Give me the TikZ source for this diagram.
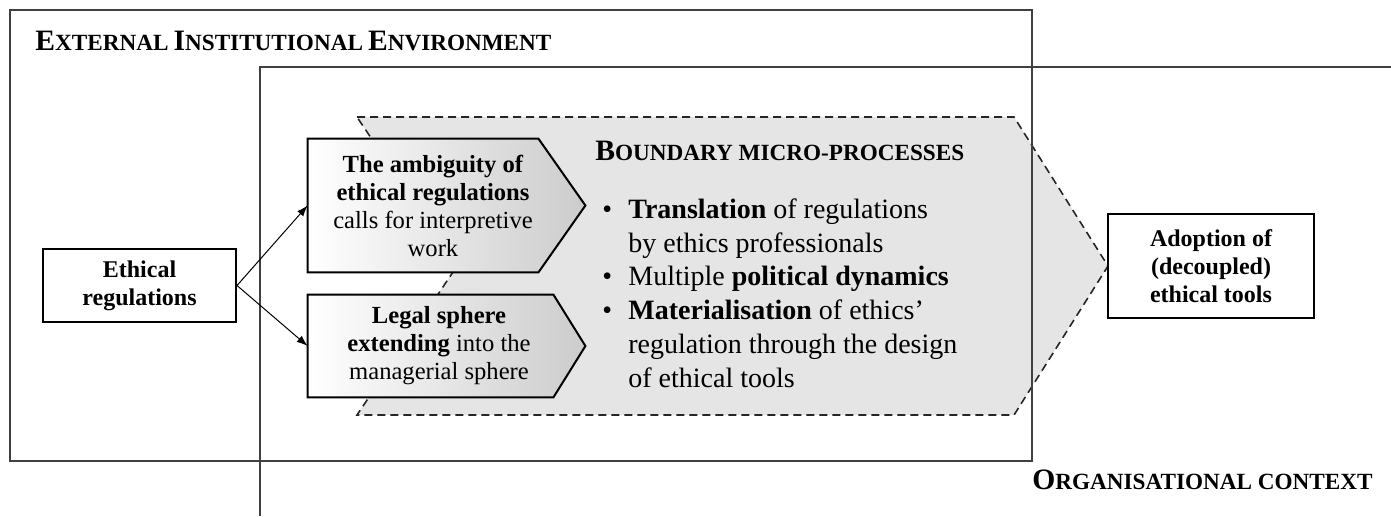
\documentclass[tikz,border=0pt]{standalone}
\usepackage{fontspec}
\setmainfont{Liberation Serif}
\usetikzlibrary{calc,arrows.meta}
\newcommand\fsc[2]{{\fontsize{14.8}{16}\selectfont #1}{\fontsize{11.6}{13}\selectfont #2}}
\begin{document}
\begin{tikzpicture}[x=0.5pt,y=-0.5pt,
  frame/.style={draw=black!75, line width=0.75pt},
  boxtext/.style={font=\fontsize{12.3}{14}\selectfont, align=center, inner sep=0pt},
  plainbox/.style={draw=black, line width=1pt, inner sep=0pt, font=\fontsize{12}{14}\selectfont\bfseries, align=center},
  body/.style={inner sep=0pt},
  pent/.style={draw=black, line width=1pt, left color=white, right color=gray!40, line join=miter},
  zone/.style={draw=black!85, line width=0.8pt, dash pattern=on 4pt off 2.5pt, fill=gray!20},
  heading/.style={anchor=base west, inner sep=0pt, font=\bfseries},
  listline/.style={anchor=base west, inner sep=0pt, font=\fontsize{14}{17}\selectfont},
  arrow/.style={draw=black, line width=0.5pt, -{Latex[length=5.5pt,width=4pt]}}
]
\useasboundingbox (0,0) rectangle (1391,516);

% boundary micro-processes zone
\coordinate (z1) at (357,117);
\coordinate (z2) at (1014,117);
\coordinate (z3) at (1108,266);
\coordinate (z4) at (1014,415);
\coordinate (z5) at (357,415);
\coordinate (z6) at (457,266);
\path[zone] (z1) -- (z2) -- (z3) -- (z4) -- (z5) -- (z6) -- cycle;

% frames
\path[frame] (10,10) rectangle (1032,461);
\coordinate (oc) at (260,67);
\coordinate (ocb) at (260,516);
\coordinate (ocr) at (1391,67);
\path[frame] (ocb) -- (oc) -- (ocr);

\node[heading] (ext) at (35,50) {\fsc{E}{XTERNAL} \fsc{I}{NSTITUTIONAL} \fsc{E}{NVIRONMENT}};
\node[heading, anchor=base east] (org) at (1373,489) {\fsc{O}{RGANISATIONAL CONTEXT}};
\node[heading] (bmp) at (595,160) {\fsc{B}{OUNDARY MICRO-PROCESSES}};

% boxes
\node[plainbox, minimum width=96.5pt, minimum height=36.5pt] (eth) at (139.5,285.5) {Ethical\\regulations};
\node[plainbox, minimum width=103pt, minimum height=52pt] (adopt) at (1211,266) {Adoption of\\(decoupled)\\ethical tools};

\node[body, minimum width=115pt, minimum height=66.5pt] (amb) at (423,205.5) {};
\path[pent] (amb.north west) -- (amb.north east) -- ($(amb.east)+(47,0)$) -- (amb.south east) -- (amb.south west) -- cycle;
\node[boxtext] (ambt) at (433,206) {\textbf{The ambiguity of}\\\textbf{ethical regulations}\\calls for interpretive\\work};

\node[body, minimum width=122.5pt, minimum height=51pt] (leg) at (430.5,346) {};
\path[pent] (leg.north west) -- (leg.north east) -- ($(leg.east)+(32,0)$) -- (leg.south east) -- (leg.south west) -- cycle;
\node[boxtext] (legt) at (439,346) {\textbf{Legal sphere}\\\textbf{extending} into the\\managerial sphere};

% connectors
\path[arrow] (eth.east) -- (amb.west);
\path[arrow] (eth.east) -- (leg.west);

% list
\node[listline] (l1) at (602,218) {\makebox[13pt][l]{\textbullet}\textbf{Translation} of regulations};
\node[listline] (l2) at (628,252) {by ethics professionals};
\node[listline] (l3) at (602,285.5) {\makebox[13pt][l]{\textbullet}Multiple \textbf{political dynamics}};
\node[listline] (l4) at (602,319.5) {\makebox[13pt][l]{\textbullet}\textbf{Materialisation} of ethics’};
\node[listline] (l5) at (628,353) {regulation through the design};
\node[listline] (l6) at (628,387) {of ethical tools};
\end{tikzpicture}
\end{document}
